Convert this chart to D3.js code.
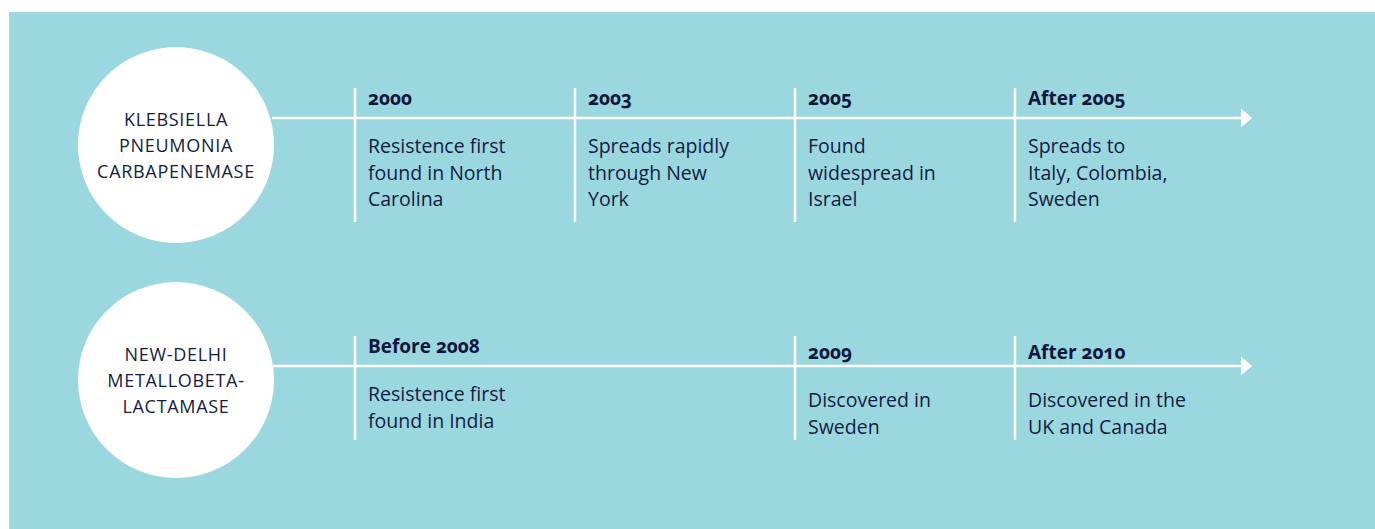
<!DOCTYPE html>
<html>
<head>
<meta charset="utf-8">
<script src="https://cdn.jsdelivr.net/npm/d3@7"></script>
<style>
  body { margin: 0; background: #fff; }
  svg { display: block; font-family: "Open Sans", "Noto Sans", sans-serif; }
  .year { font-weight: 700; font-size: 19px; fill: #10173c; font-variant-numeric: oldstyle-nums; }
  .desc { font-size: 19.5px; fill: #131c42; }
  .enzyme { font-size: 18px; fill: #131c42; letter-spacing: 0.7px; }
</style>
</head>
<body>
<div class="container"></div>
<script>
// enzymes, one per timeline row
const enzymes = ["KPC", "NDM"];
const enzymeNames = [
  ["KLEBSIELLA", "PNEUMONIA", "CARBAPENEMASE"],
  ["NEW-DELHI", "METALLOBETA-", "LACTAMASE"]
];

// KPC events
const kpcDates = ["2000", "2003", "2005", "After 2005"];
const kpcSlots = [0, 1, 2, 3];
const kpcEvents = [
  ["Resistence first", "found in North", "Carolina"],
  ["Spreads rapidly", "through New", "York"],
  ["Found", "widespread in", "Israel"],
  ["Spreads to", "Italy, Colombia,", "Sweden"]
];

// NDM events
const ndmDates = ["Before 2008", "2009", "After 2010"];
const ndmSlots = [0, 2, 3];
const ndmEvents = [
  ["Resistence first", "found in India"],
  ["Discovered in", "Sweden"],
  ["Discovered in the", "UK and Canada"]
];

const width = 1375;
const height = 529;
const bg = "#9bd7df";

const svg = d3.select(".container")
              .append("svg")
              .attr("width", width)
              .attr("height", height);

// teal panel
svg.append("rect")
   .attr("x", 9)
   .attr("y", 12)
   .attr("width", width - 9)
   .attr("height", height - 12)
   .attr("fill", bg);

// scales: columns across, rows down
const x = d3.scaleLinear().domain([0, 3]).range([355, 1015]);
const y = d3.scalePoint().domain(enzymes).range([118, 366]);

const circleX = 176;
const circleR = 98;
const arrowEnd = 1252;

// build rows from the arrays
const rows = [
  {key: "KPC", names: enzymeNames[0], cy: 145,
   events: kpcDates.map((d, i) => ({date: d, slot: kpcSlots[i], lines: kpcEvents[i]}))},
  {key: "NDM", names: enzymeNames[1], cy: 380,
   events: ndmDates.map((d, i) => ({date: d, slot: ndmSlots[i], lines: ndmEvents[i]}))}
];

// small nudges seen in the original layout
const rowStyle = {
  KPC: {top: -30, bottom: 104, yearY: -13, descY: 35, shift: () => 0},
  NDM: {top: -30, bottom: 74, yearY: -7, descY: 41, shift: (e) => e.slot === 0 ? -6 : 0}
};

rows.forEach(row => {
  const ly = y(row.key);
  const st = rowStyle[row.key];
  const g = svg.append("g");

  // main line
  g.append("line")
   .attr("x1", circleX + circleR - 2)
   .attr("x2", arrowEnd - 10)
   .attr("y1", ly)
   .attr("y2", ly)
   .attr("stroke", "#fff")
   .attr("stroke-width", 2.5);

  // arrow head
  g.append("path")
   .attr("d", `M${arrowEnd - 11},${ly - 9.5}L${arrowEnd},${ly}L${arrowEnd - 11},${ly + 9.5}Z`)
   .attr("fill", "#fff");

  // circle with enzyme name
  g.append("circle")
   .attr("cx", circleX)
   .attr("cy", row.cy)
   .attr("r", circleR)
   .attr("fill", "#fff");

  g.append("text")
   .attr("class", "enzyme")
   .attr("text-anchor", "middle")
   .selectAll("tspan")
   .data(row.names)
   .enter()
   .append("tspan")
   .attr("x", circleX)
   .attr("y", (d, i) => row.cy + (i - 1) * 26 + 7)
   .text(d => d);

  // event ticks and labels
  const ev = g.selectAll("g.event")
              .data(row.events)
              .enter()
              .append("g")
              .attr("class", "event")
              .attr("transform", d => `translate(${x(d.slot)},${ly})`);

  ev.append("line")
    .attr("y1", st.top)
    .attr("y2", st.bottom)
    .attr("stroke", "#fff")
    .attr("stroke-width", 2.5);

  ev.append("text")
    .attr("class", "year")
    .attr("x", 13)
    .attr("y", d => st.yearY + st.shift(d))
    .text(d => d.date);

  ev.append("text")
    .attr("class", "desc")
    .selectAll("tspan")
    .data(d => d.lines.map(l => ({l: l, s: st.shift(d)})))
    .enter()
    .append("tspan")
    .attr("x", 13)
    .attr("y", (d, i) => st.descY + d.s + i * 26.5)
    .text(d => d.l);
});
</script>
</body>
</html>
